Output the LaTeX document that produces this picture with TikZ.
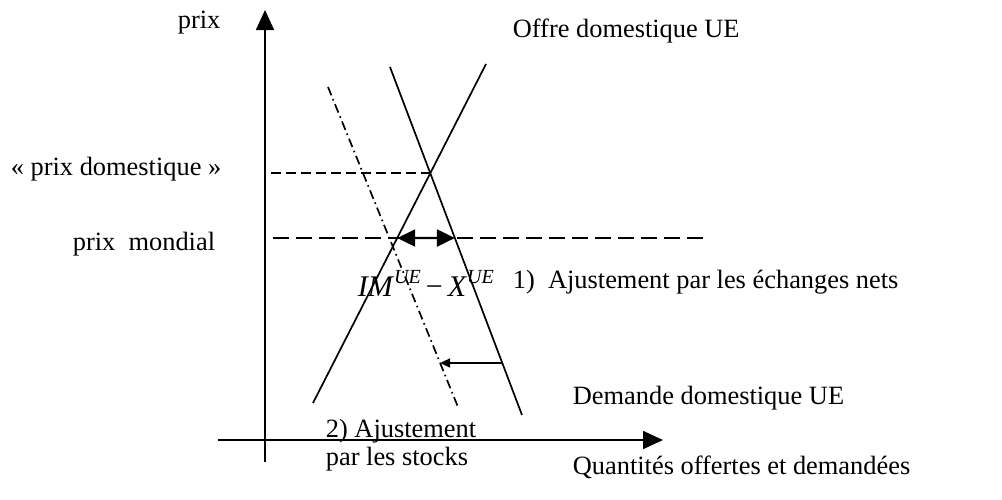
\documentclass[tikz,border=0pt]{standalone}
\usepackage{fontspec}
\setmainfont{Liberation Serif}
\usetikzlibrary{arrows.meta,calc}
\begin{document}
\begin{tikzpicture}[x=0.5pt,y=-0.5pt,
  font=\fontsize{13.2}{15}\selectfont, line width=0.85pt,
  lbl/.style={anchor=base west, inner sep=0pt},
  axisarrow/.style={-{Triangle[length=10pt,width=9pt]}},
  domdash/.style={dash pattern=on 5pt off 2.5pt},
  worlddash/.style={dash pattern=on 8pt off 3.5pt},
  shiftdash/.style={dash pattern=on 4.5pt off 2pt on 0.8pt off 2pt},
  tradearrow/.style={{Triangle[length=9pt,width=8.5pt]}-{Triangle[length=9pt,width=8.5pt]}, line width=1.1pt},
  stockarrow/.style={-{Triangle[length=5pt,width=4.5pt]}}]
\useasboundingbox (0,0) rectangle (1002,499);
% axes
\coordinate (yb) at (265,462); \coordinate (yt) at (265,10);
\coordinate (xl) at (218,440); \coordinate (xr) at (663,440);
\draw[axisarrow] (yb) -- (yt);
\draw[axisarrow] (xl) -- (xr);
% curves
\coordinate (S1) at (313,403); \coordinate (S2) at (486,64);
\coordinate (D1) at (390,67);  \coordinate (D2) at (522,415);
\coordinate (E1) at (328,87);  \coordinate (E2) at (458,407);
\draw (S1) -- (S2);
\draw (D1) -- (D2);
\draw[shiftdash] (E1) -- (E2);
\coordinate (eq) at (intersection of S1--S2 and D1--D2);
% domestic price
\coordinate (pdl) at ($(yb|-eq)+(6,0)$);
\draw[domdash] (pdl) -- (eq);
% world price
\coordinate (wl) at (273,238); \coordinate (wr) at (705,238);
\draw[worlddash] (wl) -- (wr);
\coordinate (wS) at (intersection of S1--S2 and wl--wr);
\coordinate (wD) at (intersection of D1--D2 and wl--wr);
\draw[tradearrow] (wS) -- (wD);
% stock adjustment arrow
\coordinate (hl) at (0,363); \coordinate (hr) at (1000,363);
\coordinate (sD) at (intersection of D1--D2 and hl--hr);
\coordinate (sE) at (intersection of E1--E2 and hl--hr);
\draw[stockarrow] (sD) -- (sE);
% labels
\node[lbl] (tprix) at (177,28) {prix};
\node[lbl] (toffre) at (512,37) {Offre domestique UE};
\node[lbl] (tpdom) at (10,175) {« prix domestique »};
\node[lbl] (tpmon) at (72,250) {prix~ mondial};
\node[lbl] (tim) at (357,296) {\fontsize{15}{17}\selectfont\textit{IM}\raisebox{6.5pt}{\fontsize{10}{11}\selectfont\textit{UE}}\,−\,\textit{X}\raisebox{6.5pt}{\fontsize{10}{11}\selectfont\textit{UE}}};
\node[lbl] (tadj1) at (512,288) {1)~ Ajustement par les échanges nets};
\node[lbl] (tdem) at (572,404) {Demande domestique UE};
\node[lbl] (tadj2a) at (325,437) {2) Ajustement};
\node[lbl] (tadj2b) at (325,465) {par les stocks};
\node[lbl] (tqte) at (572,474) {Quantités offertes et demandées};
\end{tikzpicture}
\end{document}
